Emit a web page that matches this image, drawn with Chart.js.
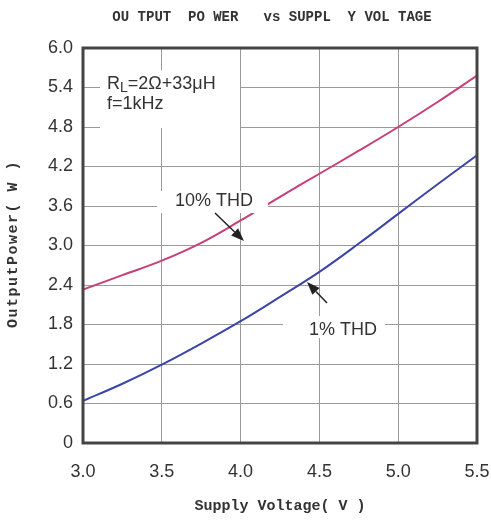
<!DOCTYPE html>
<html>
<head>
<meta charset="utf-8">
<script src="https://cdn.jsdelivr.net/npm/chart.js@4.4.1/dist/chart.umd.min.js"></script>
<style>
  body { margin: 0; background: #fff; }
  canvas { display: block; }
</style>
</head>
<body>
<canvas id="powerChart" width="491" height="523"></canvas>
<script>
// Supply voltage (V) sample points
const voltages = [3.0, 3.25, 3.5, 3.75, 4.0, 4.25, 4.5, 4.75, 5.0, 5.25, 5.5];
// Output power (W)
const power10 = [2.33, 2.55, 2.77, 3.04, 3.38, 3.74, 4.09, 4.44, 4.80, 5.18, 5.58];
const power1 = [0.64, 0.90, 1.19, 1.51, 1.85, 2.22, 2.60, 3.03, 3.48, 3.93, 4.37];
// tick labels
const xTicks = [3.0, 3.5, 4.0, 4.5, 5.0, 5.5];
const yTicks = [0, 0.6, 1.2, 1.8, 2.4, 3.0, 3.6, 4.2, 4.8, 5.4, 6.0];

const textColor = '#333';
const tickFont = '18px "Liberation Sans", Arial, sans-serif';
const monoFont = 'bold 14px "Liberation Mono", "Courier New", monospace';

function arrow(ctx, x1, y1, x2, y2) {
    const ang = Math.atan2(y2 - y1, x2 - x1);
    const len = 13, half = 5;
    const bx = x2 - len * Math.cos(ang), by = y2 - len * Math.sin(ang);
    ctx.strokeStyle = '#222';
    ctx.lineWidth = 1.5;
    ctx.beginPath();
    ctx.moveTo(x1, y1);
    ctx.lineTo(bx, by);
    ctx.stroke();
    ctx.fillStyle = '#222';
    ctx.beginPath();
    ctx.moveTo(x2, y2);
    ctx.lineTo(bx - half * Math.sin(ang), by + half * Math.cos(ang));
    ctx.lineTo(bx + half * Math.sin(ang), by - half * Math.cos(ang));
    ctx.closePath();
    ctx.fill();
}

// titles, frame and in-plot notes
const decorations = {
    id: 'decorations',
    afterDatasetsDraw(chart) {
        const { ctx, chartArea: a } = chart;
        ctx.save();

        // white boxes behind notes
        ctx.fillStyle = '#fff';
        ctx.fillRect(100, 70, 140, 58);
        ctx.fillRect(157, 191, 111, 22);
        ctx.fillRect(283, 316, 102, 22);

        ctx.fillStyle = textColor;
        ctx.font = tickFont;
        ctx.textBaseline = 'middle';
        ctx.textAlign = 'left';
        ctx.fillText('R', 107, 84);
        const rw = ctx.measureText('R').width;
        ctx.font = '14px "Liberation Sans", Arial, sans-serif';
        ctx.fillText('L', 107 + rw, 88);
        const lw = ctx.measureText('L').width;
        ctx.font = tickFont;
        ctx.fillText('=2Ω+33μH', 107 + rw + lw, 84);
        ctx.fillText('f=1kHz', 107, 104);

        ctx.textAlign = 'center';
        ctx.fillText('10% THD', 214, 201);
        ctx.fillText('1% THD', 343, 330);

        arrow(ctx, 215, 213, 244, 241);
        arrow(ctx, 327, 303, 307, 282);

        // frame
        ctx.strokeStyle = '#444';
        ctx.lineWidth = 3;
        ctx.strokeRect(a.left, a.top, a.right - a.left, a.bottom - a.top);

        // titles
        ctx.fillStyle = textColor;
        ctx.font = monoFont;
        ctx.textAlign = 'center';
        ctx.fillText('OU TPUT  PO WER   vs SUPPL  Y VOL TAGE', 272, 17);
        ctx.font = 'bold 15px "Liberation Mono", "Courier New", monospace';
        ctx.fillText('Supply Voltage( V )', 280, 506);
        ctx.letterSpacing = '1.5px';
        ctx.translate(13, 244);
        ctx.rotate(-Math.PI / 2);
        ctx.fillText('OutputPower( W )', 0, 0);
        ctx.restore();
    }
};

const ctx = document.getElementById('powerChart').getContext('2d');
const powerChart = new Chart(ctx, {
    type: 'line',
    data: {
        datasets: [{
            label: '10% THD',
            data: voltages.map((v, i) => ({ x: v, y: power10[i] })),
            borderColor: '#c73e78',
            borderWidth: 2,
            pointRadius: 0,
            tension: 0.4
        }, {
            label: '1% THD',
            data: voltages.map((v, i) => ({ x: v, y: power1[i] })),
            borderColor: '#3b45a8',
            borderWidth: 2,
            pointRadius: 0,
            tension: 0.4
        }]
    },
    options: {
        responsive: false,
        animation: false,
        layout: {
            padding: { top: 48, right: 14, left: 0, bottom: 0 }
        },
        plugins: {
            legend: { display: false },
            tooltip: { enabled: false }
        },
        scales: {
            x: {
                type: 'linear',
                min: 3.0,
                max: 5.5,
                afterBuildTicks: (scale) => { scale.ticks = xTicks.map(v => ({ value: v })); },
                afterFit: (scale) => {
                    scale.height = 80;
                    scale.paddingLeft = 0;
                    scale.paddingRight = 0;
                },
                grid: { color: '#9a9a9a', lineWidth: 1, drawTicks: false },
                border: { display: false },
                ticks: {
                    padding: 18,
                    color: textColor,
                    font: { family: '"Liberation Sans", Arial, sans-serif', size: 18 },
                    maxRotation: 0,
                    callback: (v) => v.toFixed(1)
                }
            },
            y: {
                min: 0,
                max: 6,
                afterBuildTicks: (scale) => { scale.ticks = yTicks.map(v => ({ value: v })); },
                afterFit: (scale) => {
                    scale.width = 83;
                    scale.paddingTop = 0;
                    scale.paddingBottom = 0;
                },
                grid: { color: '#9a9a9a', lineWidth: 1, drawTicks: false },
                border: { display: false },
                ticks: {
                    padding: 10,
                    color: textColor,
                    font: { family: '"Liberation Sans", Arial, sans-serif', size: 18 },
                    callback: (v) => v === 0 ? '0' : v.toFixed(1)
                }
            }
        }
    },
    plugins: [decorations]
});
</script>
</body>
</html>
